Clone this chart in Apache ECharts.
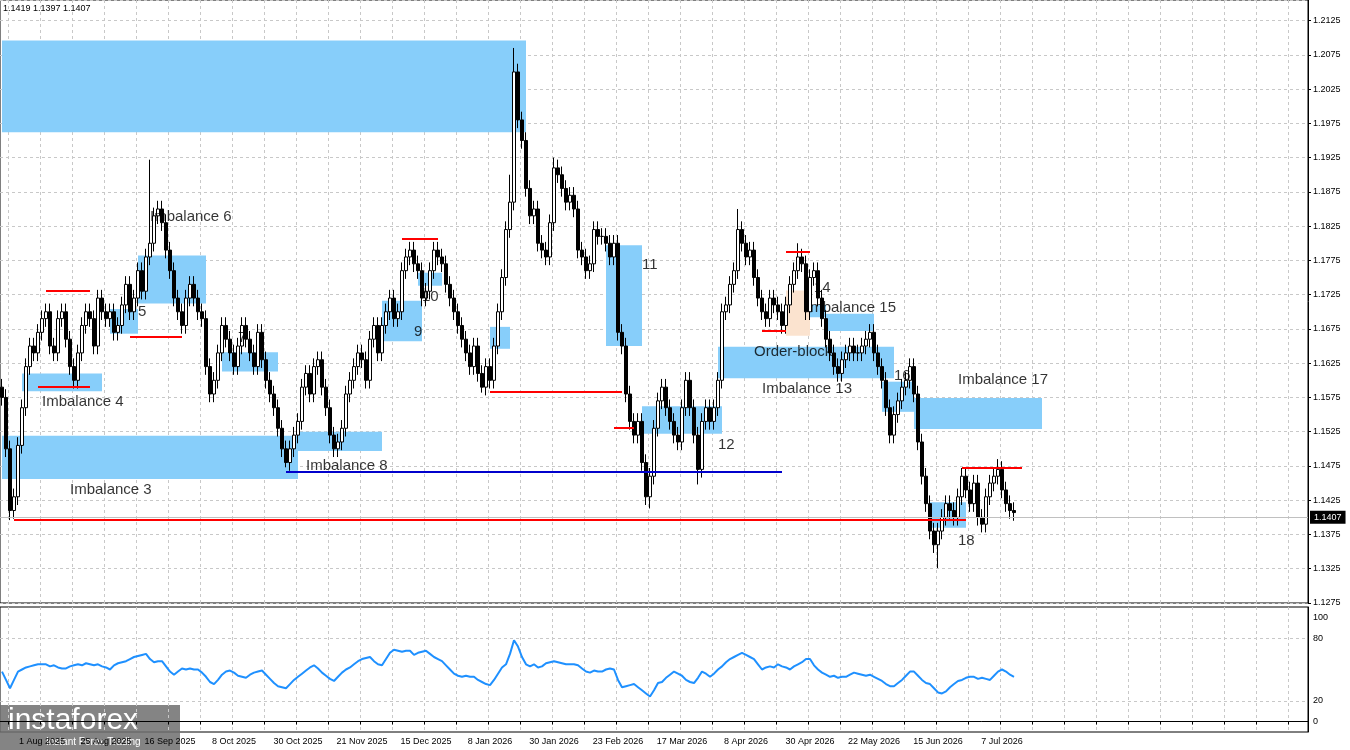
<!DOCTYPE html>
<html>
<head>
<meta charset="utf-8">
<script src="https://cdn.jsdelivr.net/npm/echarts@6/dist/echarts.min.js"></script>
<style>
  html, body { margin: 0; padding: 0; background: #fff; }
  #main { width: 1350px; height: 750px; }
</style>
</head>
<body>
<div id="main"></div>
<script>
// closes in pips above 1.1000 (daily bars)
var closePips = [
  575,500,410,430,505,560,620,650,640,670, 690,700,650,640,690,700,660,620,600,640,
  680,700,690,650,720,700,690,700,670,680, 710,740,700,720,760,730,780,800,840,850,
  830,790,760,720,700,680,720,740,720,700, 690,620,580,600,640,680,660,640,620,650,
  680,660,640,620,670,630,600,580,560,530, 500,480,500,520,540,590,610,580,620,630,
  590,560,520,500,510,530,580,600,620,640, 630,600,660,680,640,680,700,720,690,700,
  760,780,790,770,760,720,730,760,790,780, 770,740,720,700,680,660,640,620,650,610,
  590,620,600,650,700,750,820,860,1050,980, 950,880,840,850,800,790,780,830,910,900,
  880,860,870,850,790,780,760,770,820,810, 810,800,780,800,670,650,580,540,520,540,
  480,430,460,530,570,590,560,540,520,510, 560,600,560,520,470,540,560,540,560,600,
  700,710,740,760,820,800,780,790,750,720, 700,690,720,710,700,680,710,740,760,780,
  770,700,750,760,720,690,660,640,620,610, 630,640,650,640,640,650,660,670,640,620,
  600,560,520,550,570,590,600,620,580,510, 460,420,380,360,380,400,420,410,400,430,
  460,440,420,450,400,390,430,450,460,470, 440,420,410,407
];
// swing extremes (pips)
var highOverride = { 37: 922, 128: 1085, 127: 900, 138: 925, 184: 850, 199: 800, 249: 485 };
var lowOverride = { 2: 396, 71: 473, 162: 413, 174: 448, 234: 326, 120: 582 };

var rsiValues = [
  48,40,32,40,48,50,52,53,54,55, 55,55,53,54,52,51,51,53,54,55,
  54,56,55,54,55,53,52,50,54,56, 57,58,60,62,63,64,65,60,57,58,
  58,53,48,45,48,51,50,51,50,50, 47,43,38,36,40,45,48,49,47,44,
  43,42,45,47,48,49,45,41,37,34, 33,32,36,40,43,46,49,52,54,51,
  47,44,41,39,43,47,50,52,55,58, 60,61,62,58,55,54,60,66,69,68,
  67,68,68,64,66,67,68,65,62,60, 58,54,50,46,44,43,44,43,43,40,
  38,36,35,40,46,52,55,65,78,72, 62,55,53,55,52,53,56,57,58,57,
  56,55,55,55,54,51,48,47,49,48, 48,50,51,50,40,33,34,35,36,33,
  30,27,24,30,37,38,42,45,48,46, 44,40,38,37,42,48,46,43,46,50,
  53,57,60,62,64,66,64,62,60,55, 50,52,53,52,55,53,52,50,53,55,
  57,60,60,54,50,47,45,43,44,42, 43,43,45,47,46,45,44,45,43,41,
  39,36,34,34,37,40,44,48,48,44, 40,37,36,32,28,27,29,33,36,39,
  40,42,43,43,41,42,41,40,44,48, 50,48,45,43
];

// zones: [startIdx, endIdx, top, bottom]
var zones = [
  [0, 131, 1.2096, 1.1962], [0, 74, 1.1519, 1.1456], [5, 25, 1.1610, 1.1584],
  [27, 34, 1.1704, 1.1668], [34, 51, 1.1782, 1.1712], [55, 69, 1.1641, 1.1613],
  [74, 95, 1.1525, 1.1497], [95, 105, 1.1716, 1.1657], [104, 110, 1.1757, 1.1738],
  [122, 127, 1.1678, 1.1646], [151, 160, 1.1797, 1.1650], [160, 180, 1.1562, 1.1522],
  [179, 223, 1.1649, 1.1603], [200, 206, 1.1710, 1.1692], [206, 218, 1.1697, 1.1672],
  [220, 228, 1.1598, 1.1554], [228, 260, 1.1574, 1.1529], [232, 241, 1.1422, 1.1385]
];
var peachZone = [196, 202, 1.1731, 1.1665];

// level lines: [startIdx, endIdx, price, colour]
var levels = [
  [3, 241, 1.1396, "#ff0000"], [71, 195, 1.1466, "#0000cc"],
  [11, 22, 1.1731, "#ff0000"], [9, 22, 1.1591, "#ff0000"], [32, 45, 1.1663, "#ff0000"],
  [100, 109, 1.1807, "#ff0000"], [122, 155, 1.1584, "#ff0000"], [153, 158, 1.1531, "#ff0000"],
  [190, 196, 1.1672, "#ff0000"], [196, 202, 1.1788, "#ff0000"], [240, 255, 1.1473, "#ff0000"]
];

// text labels: [text, idx, price]
var labels = [
  ["Imbalance 3", 17, 1.1440], ["Imbalance 4", 10, 1.1569], ["5", 34, 1.1700],
  ["Imbalance 6", 37, 1.1838], ["7", 59, 1.1662], ["Imbalance 8", 76, 1.1475],
  ["9", 103, 1.1671], ["10", 105, 1.1722], ["11", 160, 1.1769], ["12", 179, 1.1506],
  ["Order-block", 188, 1.1641], ["Imbalance 13", 190, 1.1588], ["14", 203, 1.1735],
  ["Imbalance 15", 201, 1.1706], ["16", 223, 1.1607], ["Imbalance 17", 239, 1.1600],
  ["18", 239, 1.1365]
];

var lastClose = 1.1407;
var totalSlots = 327;
var holidays = ["2025-12-25", "2026-01-01"];

// ---- categories: trading days from 18 Jul 2025 ----
var months = ["Jan","Feb","Mar","Apr","May","Jun","Jul","Aug","Sep","Oct","Nov","Dec"];
var dates = [];
var d = new Date(2025, 6, 18);
while (dates.length < totalSlots) {
  var wd = d.getDay();
  var key = d.getFullYear() + "-" + String(d.getMonth() + 1).padStart(2, "0") + "-" + String(d.getDate()).padStart(2, "0");
  if (wd !== 0 && wd !== 6 && holidays.indexOf(key) < 0) {
    dates.push(d.getDate() + " " + months[d.getMonth()] + " " + d.getFullYear());
  }
  d.setDate(d.getDate() + 1);
}

// ---- OHLC ----
var ohlc = closePips.map(function (c, i) {
  var o = i === 0 ? 590 : closePips[i - 1];
  var hi = highOverride[i] != null ? highOverride[i] : Math.max(o, c) + 12;
  var lo = lowOverride[i] != null ? lowOverride[i] : Math.min(o, c) - 12;
  return [1.1 + o / 10000, 1.1 + c / 10000, 1.1 + lo / 10000, 1.1 + hi / 10000];
});

var areaData = zones.map(function (z) {
  return [{ coord: [z[0], z[2]] }, { coord: [z[1], z[3]] }];
});
areaData.push([{ coord: [peachZone[0], peachZone[2]], itemStyle: { color: "#fbe3cf" } }, { coord: [peachZone[1], peachZone[3]] }]);

var lineData = levels.map(function (l) {
  return [{ coord: [l[0], l[2]], lineStyle: { color: l[3] } }, { coord: [l[1], l[2]] }];
});
lineData.push({ yAxis: lastClose, lineStyle: { color: "#c0c0c0", width: 1, type: "solid" },
  label: { show: true, position: "end", formatter: lastClose.toFixed(4), backgroundColor: "#000", color: "#fff",
    fontSize: 9, padding: [2, 4], distance: 2 } });

var labelData = labels.map(function (t) { return { value: [t[1], t[2]], name: t[0] }; });

var gridColor = "#c8c8c8";
var lastBar = closePips.length;
var isTick = function (i) { return (i - 10) % 8 === 0; };
var isLabel = function (i) { return (i - 10) % 16 === 0 && i < lastBar; };

var chart = echarts.init(document.getElementById("main"));
chart.setOption({
  backgroundColor: "#fff",
  animation: false,
  grid: [
    { left: 0, right: 42, top: 0, height: 603, show: true, borderColor: "#000", borderWidth: 1 },
    { left: 0, right: 42, top: 607, height: 125, show: true, borderColor: "#000", borderWidth: 1 }
  ],
  xAxis: [
    { type: "category", data: dates, gridIndex: 0, boundaryGap: true,
      axisLine: { show: false }, axisTick: { show: false }, axisLabel: { show: false },
      splitLine: { show: true, interval: function (i) { return isTick(i); }, lineStyle: { color: gridColor, type: [3, 3] } } },
    { type: "category", data: dates, gridIndex: 1, boundaryGap: true,
      axisLine: { lineStyle: { color: "#000" } },
      axisTick: { show: true, interval: function (i) { return isTick(i); }, length: 3, lineStyle: { color: "#000" } },
      axisLabel: { interval: function (i) { return isLabel(i); }, fontSize: 9, color: "#000", fontFamily: "Liberation Sans", margin: 5 },
      splitLine: { show: true, interval: function (i) { return isTick(i); }, lineStyle: { color: gridColor, type: [3, 3] } } }
  ],
  yAxis: [
    { type: "value", gridIndex: 0, position: "right", min: 1.1275, max: 1.2155, interval: 0.005,
      axisLine: { show: true, lineStyle: { color: "#000" } }, axisTick: { show: true, length: 3, lineStyle: { color: "#000" } },
      axisLabel: { fontSize: 9, color: "#000", fontFamily: "Liberation Sans", showMaxLabel: false, margin: 5,
        formatter: function (v) { return v.toFixed(4); } },
      splitLine: { show: true, lineStyle: { color: gridColor, type: [3, 3] } } },
    { type: "value", gridIndex: 1, position: "right", min: -10, max: 110, interval: 10,
      axisLine: { show: true, lineStyle: { color: "#000" } }, axisTick: { show: false },
      axisLabel: { fontSize: 9, color: "#000", fontFamily: "Liberation Sans", margin: 5,
        formatter: function (v) { return (v === 0 || v === 20 || v === 80 || v === 100) ? String(v) : ""; } },
      splitLine: { show: false } }
  ],
  series: [
    { type: "candlestick", xAxisIndex: 0, yAxisIndex: 0, data: ohlc, barWidth: 3,
      itemStyle: { color: "#fff", color0: "#000", borderColor: "#000", borderColor0: "#000", borderWidth: 1 },
      markArea: { silent: true, itemStyle: { color: "#87cefa" }, data: areaData },
      markLine: { silent: true, symbol: "none", animation: false, label: { show: false },
        lineStyle: { width: 2, type: "solid" }, data: lineData } },
    { type: "scatter", xAxisIndex: 0, yAxisIndex: 0, symbolSize: 0, data: labelData, z: 10,
      label: { show: true, position: "right", distance: 0, formatter: "{b}", fontSize: 15,
        fontFamily: "Liberation Sans", color: "#000" } },
    { type: "line", xAxisIndex: 1, yAxisIndex: 1, data: rsiValues, symbol: "none",
      lineStyle: { color: "#1e90ff", width: 2 },
      markLine: { silent: true, symbol: "none", label: { show: false },
        lineStyle: { color: gridColor, type: [3, 3], width: 1 }, data: [{ yAxis: 20 }, { yAxis: 80 }] } }
  ],
  graphic: [
    { type: "text", left: 3, top: 4, style: { text: "1.1419 1.1397 1.1407", fontSize: 9, fill: "#000", fontFamily: "Liberation Sans" } },
    { type: "rect", left: 0, top: 705, shape: { width: 180, height: 45 }, style: { fill: "rgba(110,110,110,0.85)" } },
    { type: "text", left: 8, top: 706, style: { text: "instaforex", fontSize: 30, fill: "#fff", fontFamily: "Liberation Sans" } },
    { type: "text", left: 46, top: 737, style: { text: "Instant Forex Trading", fontSize: 10, fill: "#fff", fontFamily: "Liberation Sans" } }
  ]
});
</script>
</body>
</html>
